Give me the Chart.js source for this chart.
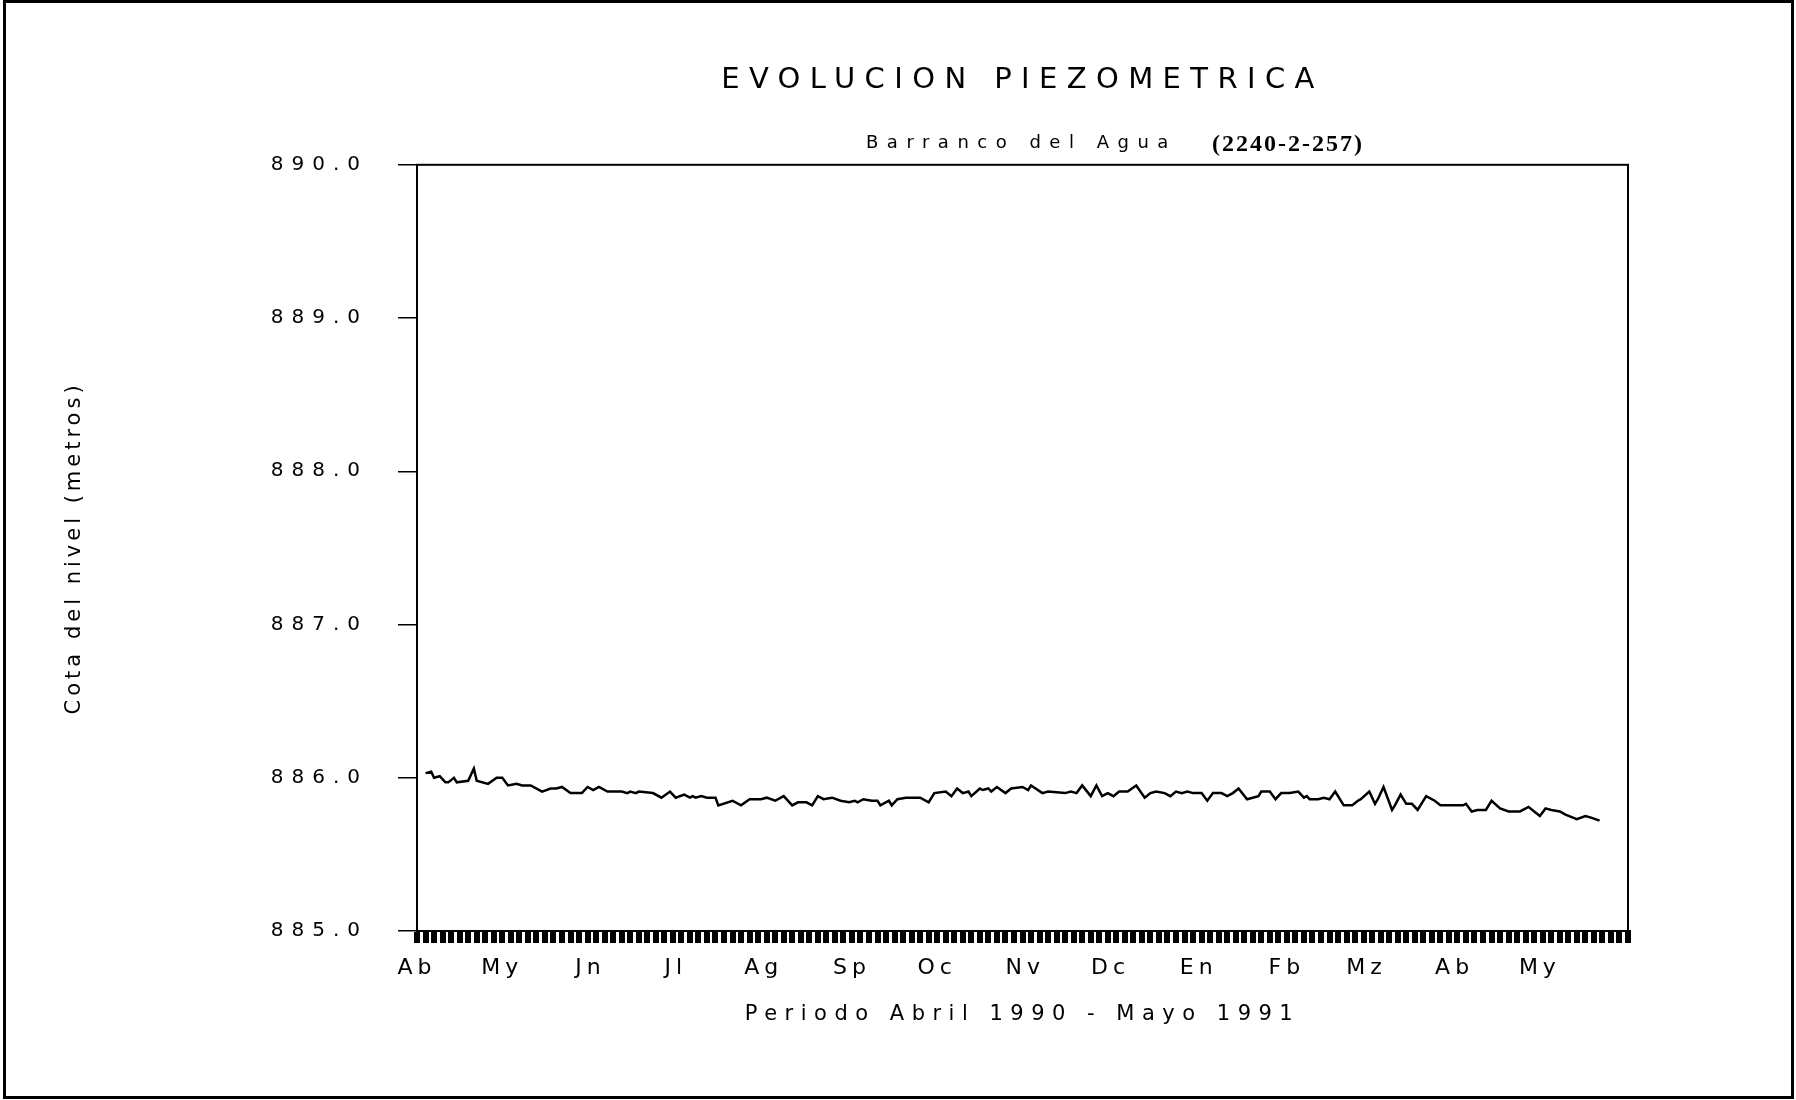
<!DOCTYPE html>
<html lang="es">
<head>
<meta charset="utf-8">
<title>Evolucion piezometrica</title>
<script src="https://cdn.jsdelivr.net/npm/chart.js@4.4.1/dist/chart.umd.min.js"></script>
<style>
  html, body { margin: 0; background: #fff; }
  #caja { position: relative; width: 1796px; height: 1100px; }
</style>
</head>
<body>
<div id="caja"><canvas id="grafico"></canvas></div>
<script>
// dias contados desde el 1 de abril de 1990
const dias = [3, 5, 6, 8, 10, 11, 13, 14, 18, 20, 21, 25, 28, 30, 32, 35, 37, 40, 44, 47,
  49, 51, 54, 58, 60, 62, 64, 67, 72, 74, 75, 77, 78, 83, 86, 89, 91, 94, 96, 97,
  98, 100, 102, 105, 106, 111, 114, 117, 121, 123, 126, 129, 132, 134, 137, 139, 141, 143, 146, 149,
  152, 154, 155, 157, 160, 162, 163, 166, 167, 169, 172, 177, 180, 182, 186, 188, 190, 192, 194, 195,
  198, 199, 201, 202, 204, 207, 209, 213, 215, 216, 220, 222, 228, 230, 232, 234, 237, 239, 241, 243,
  245, 247, 250, 253, 256, 258, 260, 263, 265, 267, 269, 271, 273, 276, 278, 280, 283, 285, 287, 289,
  292, 296, 297, 300, 302, 304, 307, 310, 312, 313, 314, 317, 319, 321, 323, 326, 329, 331, 332, 335,
  337, 338, 340, 343, 344, 346, 348, 350, 352, 355, 358, 360, 368, 369, 371, 373, 376, 378, 381, 384,
  388, 391, 393, 395, 397, 399, 402, 404, 408, 411, 413, 416];

// cota del nivel en metros
const cota = [886.03, 886.04, 886.00, 886.01, 885.97, 885.97, 886.00, 885.97, 885.98, 886.06, 885.98, 885.96, 886.00, 886.00, 885.95, 885.96, 885.95, 885.95, 885.91, 885.93,
  885.93, 885.94, 885.90, 885.90, 885.94, 885.92, 885.94, 885.91, 885.91, 885.90, 885.91, 885.90, 885.91, 885.90, 885.87, 885.91, 885.87, 885.89, 885.87, 885.88,
  885.87, 885.88, 885.87, 885.87, 885.82, 885.85, 885.82, 885.86, 885.86, 885.87, 885.85, 885.88, 885.82, 885.84, 885.84, 885.82, 885.88, 885.86, 885.87, 885.85,
  885.84, 885.85, 885.84, 885.86, 885.85, 885.85, 885.82, 885.85, 885.82, 885.86, 885.87, 885.87, 885.84, 885.90, 885.91, 885.88, 885.93, 885.90, 885.91, 885.88,
  885.93, 885.92, 885.93, 885.91, 885.94, 885.90, 885.93, 885.94, 885.92, 885.95, 885.90, 885.91, 885.90, 885.91, 885.90, 885.95, 885.88, 885.95, 885.88, 885.90,
  885.88, 885.91, 885.91, 885.95, 885.87, 885.90, 885.91, 885.90, 885.88, 885.91, 885.90, 885.91, 885.90, 885.90, 885.85, 885.90, 885.90, 885.88, 885.90, 885.93,
  885.86, 885.88, 885.91, 885.91, 885.86, 885.90, 885.90, 885.91, 885.87, 885.88, 885.86, 885.86, 885.87, 885.86, 885.91, 885.82, 885.82, 885.85, 885.86, 885.91,
  885.83, 885.86, 885.94, 885.79, 885.82, 885.89, 885.83, 885.83, 885.79, 885.88, 885.85, 885.82, 885.82, 885.83, 885.78, 885.79, 885.79, 885.85, 885.80, 885.78,
  885.78, 885.81, 885.78, 885.75, 885.80, 885.79, 885.78, 885.76, 885.73, 885.75, 885.74, 885.72];

const mesesDia = [0, 30, 61, 91, 122, 153, 183, 214, 244, 275, 306, 334, 365, 395];
const mesesEtiqueta = ['Ab', 'My', 'Jn', 'Jl', 'Ag', 'Sp', 'Oc', 'Nv', 'Dc', 'En', 'Fb', 'Mz', 'Ab', 'My'];
const diaFinal = 426;
const cotaTicks = [885, 886, 887, 888, 889, 890];

// espaciado entre letras para imitar la letra del plotter
const espaciado = {
  x: { ticks: '5px', title: '7.5px' },
  y: { ticks: '8px', title: '4px' }
};

class EscalaPlotter extends Chart.LinearScale {
  drawLabels(area) {
    this.ctx.save();
    this.ctx.letterSpacing = espaciado[this.axis].ticks;
    super.drawLabels(area);
    this.ctx.restore();
  }
  drawTitle() {
    this.ctx.save();
    this.ctx.letterSpacing = espaciado[this.axis].title;
    super.drawTitle();
    this.ctx.restore();
  }
}
EscalaPlotter.id = 'plotter';
EscalaPlotter.defaults = Chart.LinearScale.defaults;
Chart.register(EscalaPlotter);

// marco del grafico, borde de la hoja y subtitulo
const marco = {
  id: 'marco',
  beforeDraw(chart) {
    chart.ctx.letterSpacing = '9.4px';
  },
  afterDraw(chart) {
    const { ctx, chartArea: a } = chart;
    ctx.save();
    ctx.letterSpacing = '0px';
    ctx.strokeStyle = '#000';
    ctx.lineWidth = 2;
    ctx.strokeRect(a.left, a.top, a.right - a.left, a.bottom - a.top);
    ctx.lineWidth = 3;
    ctx.strokeRect(4.5, 1.5, 1788, 1096);

    ctx.fillStyle = '#000';
    ctx.textBaseline = 'middle';
    ctx.textAlign = 'left';
    ctx.letterSpacing = '8.5px';
    ctx.font = '18px "DejaVu Sans"';
    ctx.fillText('Barranco del Agua', 866, 143);
    ctx.letterSpacing = '2px';
    ctx.font = 'bold 24px "Liberation Serif"';
    ctx.fillText('(2240-2-257)', 1212, 145);
    ctx.restore();
    ctx.letterSpacing = '0px';
  }
};

Chart.defaults.font.family = '"DejaVu Sans"';
Chart.defaults.color = '#000';

const ctx = document.getElementById('grafico').getContext('2d');
const grafico = new Chart(ctx, {
  type: 'line',
  data: {
    datasets: [{
      data: dias.map((d, i) => ({ x: d, y: cota[i] })),
      borderColor: '#000',
      borderWidth: 2.5,
      pointRadius: 0,
      tension: 0,
      fill: false
    }]
  },
  options: {
    responsive: true,
    maintainAspectRatio: false,
    animation: false,
    devicePixelRatio: 1,
    layout: { padding: { left: 10, right: 168, top: 0, bottom: 20 } },
    plugins: {
      legend: { display: false },
      tooltip: { enabled: false },
      title: {
        display: true,
        text: 'EVOLUCION PIEZOMETRICA',
        fullSize: false,
        color: '#000',
        font: { size: 29, weight: 'normal' },
        padding: { top: 63, bottom: 67 }
      }
    },
    scales: {
      x: {
        type: 'plotter',
        min: 0,
        max: diaFinal,
        afterFit: (s) => { s.height = 149; },
        afterBuildTicks: (s) => {
          const valores = new Set(mesesDia);
          for (let d = 0; d <= diaFinal; d += 3) valores.add(d);
          valores.add(diaFinal);
          s.ticks = [...valores].sort((a, b) => a - b).map(v => ({ value: v }));
        },
        grid: {
          drawOnChartArea: false,
          tickLength: 12,
          color: '#000',
          // solo las marcas cada tres dias, las del mes no se dibujan aparte
          lineWidth: (c) => (c.tick && c.tick.value % 3 !== 0) ? 0 : 6
        },
        border: { color: '#000', width: 2 },
        ticks: {
          autoSkip: false,
          maxRotation: 0,
          minRotation: 0,
          padding: 12,
          font: { size: 22 },
          callback: (v) => {
            const i = mesesDia.indexOf(v);
            return i >= 0 ? mesesEtiqueta[i] : '';
          }
        },
        title: {
          display: true,
          text: 'Periodo Abril 1990 - Mayo 1991',
          font: { size: 21 },
          padding: { top: 4, bottom: 53 }
        }
      },
      y: {
        type: 'plotter',
        position: 'left',
        min: 885,
        max: 890,
        afterFit: (s) => { s.width = 407; },
        afterBuildTicks: (s) => { s.ticks = cotaTicks.map(v => ({ value: v })); },
        grid: { drawOnChartArea: false, tickLength: 19, lineWidth: 1.5, color: '#000' },
        border: { color: '#000', width: 2 },
        ticks: {
          padding: 30,
          font: { size: 20 },
          callback: (v) => v.toFixed(1)
        },
        title: {
          display: true,
          text: 'Cota del nivel (metros)',
          font: { size: 21 },
          padding: { top: 52, bottom: 4 }
        }
      }
    }
  },
  plugins: [marco]
});
</script>
</body>
</html>
